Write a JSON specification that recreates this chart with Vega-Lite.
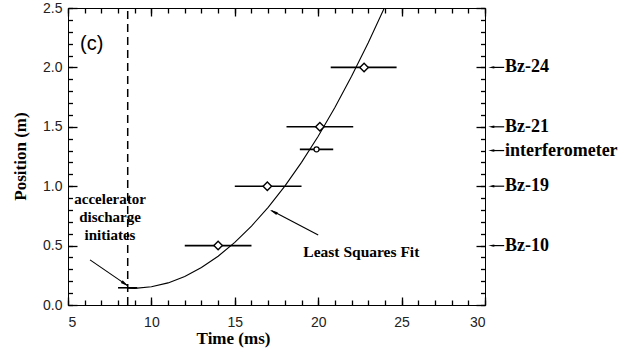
{
  "$schema": "https://vega.github.io/schema/vega-lite/v6.json",
  "width": 417,
  "height": 297,
  "autosize": {"type": "none"},
  "padding": {"left": 68, "top": 8, "right": 143, "bottom": 51},
  "background": "white",
  "config": {
    "view": {"stroke": "black", "strokeWidth": 1}
  },
  "resolve": {"axis": {"x": "independent", "y": "independent"}},
  "layer": [
    {
      "data": {"values": [
        {"t": 8.6, "pos": 0.141}, {"t": 9, "pos": 0.14}, {"t": 10, "pos": 0.153},
        {"t": 11, "pos": 0.186}, {"t": 12, "pos": 0.24}, {"t": 13, "pos": 0.315},
        {"t": 14, "pos": 0.41}, {"t": 15, "pos": 0.527}, {"t": 16, "pos": 0.664},
        {"t": 17, "pos": 0.822}, {"t": 18, "pos": 1.001}, {"t": 19, "pos": 1.201},
        {"t": 20, "pos": 1.421}, {"t": 21, "pos": 1.663}, {"t": 22, "pos": 1.925},
        {"t": 23, "pos": 2.208}, {"t": 24, "pos": 2.511}
      ]},
      "mark": {"type": "line", "clip": true, "color": "black", "strokeWidth": 1.1},
      "encoding": {
        "x": {"field": "t", "type": "quantitative",
          "scale": {"domain": [5, 30], "nice": false, "zero": false},
          "axis": {"orient": "bottom", "values": [5, 10, 15, 20, 25, 30], "grid": false, "domain": false,
            "tickColor": "#000000", "tickWidth": 1.3, "tickOpacity": 1, "tickSize": -8, "zindex": 2,
            "labelFont": "Liberation Sans", "labelFontSize": 14, "labelColor": "#222",
            "labelPadding": 18, "format": "d", "title": "Time (ms)",
            "titleFont": "Liberation Serif", "titleFontWeight": "bold", "titleFontSize": 17, "titleColor": "black",
            "titleX": 165, "titleY": 38, "titleBaseline": "alphabetic", "titleAlign": "center"}},
        "y": {"field": "pos", "type": "quantitative",
          "scale": {"domain": [0, 2.5], "nice": false, "zero": false},
          "axis": {"orient": "left", "values": [0, 0.5, 1, 1.5, 2, 2.5], "grid": false, "domain": false,
            "tickColor": "#000000", "tickWidth": 1.3, "tickSize": 9, "offset": -9, "zindex": 2,
            "labelFont": "Liberation Sans", "labelFontSize": 14, "labelColor": "#222",
            "labelPadding": 6, "format": ".1f", "title": "Position (m)",
            "titleFont": "Liberation Serif", "titleFontWeight": "bold", "titleFontSize": 17, "titleColor": "black",
            "titleX": -52, "titleY": 148, "titleAngle": -90, "titleBaseline": "alphabetic", "titleAlign": "center"}}
      }
    },
    {
      "data": {"values": [
        {"t": 8.0, "t2": 9.15, "pos": 0.145},
        {"t": 12.0, "t2": 16.0, "pos": 0.5},
        {"t": 15.0, "t2": 19.0, "pos": 1.0},
        {"t": 18.9, "t2": 20.9, "pos": 1.31},
        {"t": 18.1, "t2": 22.1, "pos": 1.5},
        {"t": 20.75, "t2": 24.7, "pos": 2.0}
      ]},
      "mark": {"type": "rule", "color": "black", "strokeWidth": 1.6},
      "encoding": {
        "x": {"field": "t", "type": "quantitative",
          "axis": {"orient": "bottom", "values": [5,6,7,8,9,10,11,12,13,14,15,16,17,18,19,20,21,22,23,24,25,26,27,28,29,30],
            "grid": false, "domain": false, "tickColor": "#000000", "tickWidth": 1.3, "tickOpacity": 1, "zindex": 2,
            "tickSize": -5, "labels": false, "title": null}},
        "x2": {"field": "t2"},
        "y": {"field": "pos", "type": "quantitative",
          "axis": {"orient": "left", "values": [0,0.1,0.2,0.3,0.4,0.5,0.6,0.7,0.8,0.9,1,1.1,1.2,1.3,1.4,1.5,1.6,1.7,1.8,1.9,2,2.1,2.2,2.3,2.4,2.5],
            "grid": false, "domain": false, "tickColor": "#000000", "tickWidth": 1.3, "zindex": 2,
            "tickSize": 4.5, "offset": -4.5, "labels": false, "title": null}}
      }
    },
    {
      "data": {"values": [
        {"t": 14.0, "pos": 0.5},
        {"t": 16.95, "pos": 1.0},
        {"t": 20.1, "pos": 1.5},
        {"t": 22.75, "pos": 2.0}
      ]},
      "mark": {"type": "point", "shape": "diamond", "filled": true, "fill": "white", "stroke": "black", "strokeWidth": 1.4, "size": 72, "opacity": 1},
      "encoding": {
        "x": {"field": "t", "type": "quantitative",
          "axis": {"orient": "top", "values": [5, 10, 15, 20, 25, 30], "grid": false, "domain": false,
            "tickColor": "#000000", "tickWidth": 1.3, "tickOpacity": 1, "zindex": 2, "tickSize": -8, "labels": false, "title": null}},
        "y": {"field": "pos", "type": "quantitative",
          "axis": {"orient": "right", "values": [0, 0.5, 1, 1.5, 2, 2.5], "grid": false, "domain": false,
            "tickColor": "#000000", "tickWidth": 1.3, "zindex": 2, "tickSize": 9, "offset": -9, "labels": false, "title": null}}
      }
    },
    {
      "data": {"values": [{"t": 8.58, "pos": 0, "pos2": 2.5}]},
      "mark": {"type": "rule", "color": "black", "strokeWidth": 1.5, "strokeDash": [8, 5]},
      "encoding": {
        "x": {"field": "t", "type": "quantitative",
          "axis": {"orient": "top", "values": [5,6,7,8,9,10,11,12,13,14,15,16,17,18,19,20,21,22,23,24,25,26,27,28,29,30],
            "grid": false, "domain": false, "tickColor": "#000000", "tickWidth": 1.3, "tickOpacity": 1, "zindex": 2,
            "tickSize": -5, "labels": false, "title": null}},
        "y": {"field": "pos", "type": "quantitative",
          "axis": {"orient": "right", "values": [0,0.1,0.2,0.3,0.4,0.5,0.6,0.7,0.8,0.9,1,1.1,1.2,1.3,1.4,1.5,1.6,1.7,1.8,1.9,2,2.1,2.2,2.3,2.4,2.5],
            "grid": false, "domain": false, "tickColor": "#000000", "tickWidth": 1.3, "zindex": 2,
            "tickSize": 4.5, "offset": -4.5, "labels": false, "title": null}},
        "y2": {"field": "pos2"}
      }
    },
    {
      "data": {"values": [{"t": 19.9, "pos": 1.31}]},
      "mark": {"type": "point", "shape": "circle", "filled": true, "fill": "white", "stroke": "black", "strokeWidth": 1.3, "size": 25, "opacity": 1},
      "encoding": {
        "x": {"field": "t", "type": "quantitative", "axis": null},
        "y": {"field": "pos", "type": "quantitative", "axis": null}
      }
    },
    {
      "data": {"values": [
        {"t": 6.32, "pos": 0.38, "t2": 8.55, "pos2": 0.165},
        {"t": 20.0, "pos": 0.59, "t2": 17.2, "pos2": 0.795}
      ]},
      "mark": {"type": "rule", "color": "black", "strokeWidth": 1.1},
      "encoding": {
        "x": {"field": "t", "type": "quantitative", "axis": null},
        "y": {"field": "pos", "type": "quantitative", "axis": null},
        "x2": {"field": "t2"},
        "y2": {"field": "pos2"}
      }
    },
    {
      "data": {"values": [{"t": 8.42, "pos": 0.177}]},
      "mark": {"type": "point", "shape": "M0,-1L-0.4,1L0.4,1Z", "filled": true, "color": "black", "size": 64, "angle": 125, "opacity": 1},
      "encoding": {
        "x": {"field": "t", "type": "quantitative", "axis": null},
        "y": {"field": "pos", "type": "quantitative", "axis": null}
      }
    },
    {
      "data": {"values": [{"t": 17.32, "pos": 0.784}]},
      "mark": {"type": "point", "shape": "M0,-1L-0.4,1L0.4,1Z", "filled": true, "color": "black", "size": 64, "angle": 297.4, "opacity": 1},
      "encoding": {
        "x": {"field": "t", "type": "quantitative", "axis": null},
        "y": {"field": "pos", "type": "quantitative", "axis": null}
      }
    },
    {
      "data": {"values": [
        {"t": 7.52, "pos": 0.85, "label": "accelerator"},
        {"t": 7.52, "pos": 0.699, "label": "discharge"},
        {"t": 7.52, "pos": 0.545, "label": "initiates"}
      ]},
      "mark": {"type": "text", "font": "Liberation Serif", "fontWeight": "bold", "fontSize": 15, "align": "center", "baseline": "alphabetic", "color": "black"},
      "encoding": {
        "x": {"field": "t", "type": "quantitative", "axis": null},
        "y": {"field": "pos", "type": "quantitative", "axis": null},
        "text": {"field": "label"}
      }
    },
    {
      "data": {"values": [{"t": 19.11, "pos": 0.407, "label": "Least Squares Fit"}]},
      "mark": {"type": "text", "font": "Liberation Serif", "fontWeight": "bold", "fontSize": 15.5, "align": "left", "baseline": "alphabetic", "color": "black"},
      "encoding": {
        "x": {"field": "t", "type": "quantitative", "axis": null},
        "y": {"field": "pos", "type": "quantitative", "axis": null},
        "text": {"field": "label"}
      }
    },
    {
      "data": {"values": [{"t": 5.72, "pos": 2.146, "label": "(c)"}]},
      "mark": {"type": "text", "font": "Liberation Sans", "fontSize": 20, "align": "left", "baseline": "alphabetic", "color": "black"},
      "encoding": {
        "x": {"field": "t", "type": "quantitative", "axis": null},
        "y": {"field": "pos", "type": "quantitative", "axis": null},
        "text": {"field": "label"}
      }
    },
    {
      "data": {"values": [
        {"pos": 2.0, "label": "Bz-24"},
        {"pos": 1.5, "label": "Bz-21"},
        {"pos": 1.3, "label": "interferometer"},
        {"pos": 1.0, "label": "Bz-19"},
        {"pos": 0.5, "label": "Bz-10"}
      ]},
      "mark": {"type": "rule", "color": "black", "strokeWidth": 1.2},
      "encoding": {
        "x": {"datum": 30.4, "type": "quantitative", "axis": null},
        "x2": {"datum": 31.15},
        "y": {"field": "pos", "type": "quantitative", "axis": null}
      }
    },
    {
      "data": {"values": [
        {"pos": 2.0, "label": "Bz-24"},
        {"pos": 1.5, "label": "Bz-21"},
        {"pos": 1.3, "label": "interferometer"},
        {"pos": 1.0, "label": "Bz-19"},
        {"pos": 0.5, "label": "Bz-10"}
      ]},
      "mark": {"type": "point", "shape": "M-1,0L1,-0.4L1,0.4Z", "filled": true, "color": "black", "size": 36, "opacity": 1},
      "encoding": {
        "x": {"datum": 30.38, "type": "quantitative", "axis": null},
        "y": {"field": "pos", "type": "quantitative", "axis": null}
      }
    },
    {
      "data": {"values": [
        {"pos": 2.0, "label": "Bz-24"},
        {"pos": 1.5, "label": "Bz-21"},
        {"pos": 1.3, "label": "interferometer"},
        {"pos": 1.0, "label": "Bz-19"},
        {"pos": 0.5, "label": "Bz-10"}
      ]},
      "mark": {"type": "text", "font": "Liberation Serif", "fontWeight": "bold", "fontSize": 18, "align": "left", "baseline": "alphabetic", "dy": 5, "color": "black"},
      "encoding": {
        "x": {"datum": 31.2, "type": "quantitative", "axis": null},
        "y": {"field": "pos", "type": "quantitative", "axis": null},
        "text": {"field": "label"}
      }
    }
  ]
}
